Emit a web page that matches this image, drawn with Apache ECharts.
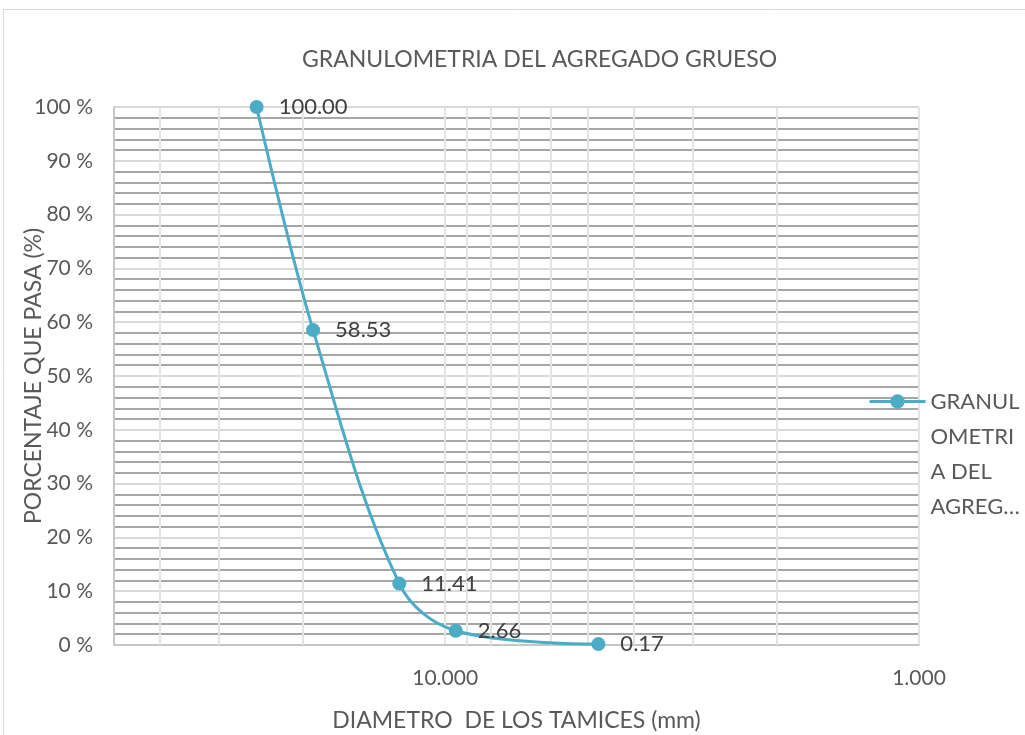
<!DOCTYPE html>
<html>
<head>
<meta charset="utf-8">
<script src="https://cdn.jsdelivr.net/npm/echarts@6/dist/echarts.min.js"></script>
<style>
  html, body { margin: 0; padding: 0; background: #ffffff; }
  #chart { width: 1025px; height: 735px; }
</style>
</head>
<body>
<div id="chart"></div>
<script>
// Sieve opening (mm) and cumulative percentage passing
const sieveSizes = [25.0, 19.0, 12.5, 9.5, 4.75];
const percentPassing = [100.00, 58.53, 11.41, 2.66, 0.17];
// Minor vertical grid positions on the logarithmic diameter axis
const minorDiameters = [40, 30, 20, 9, 8, 7, 6, 5, 4, 3, 2];

const seriesName = 'GRANULOMETRIA DEL AGREGADO GRUESO';
const font = 'Lato, "Noto Sans", sans-serif';
const teal = '#4BACC6';

const chart = echarts.init(document.getElementById('chart'), null, { renderer: 'canvas' });

chart.setOption({
  backgroundColor: '#ffffff',
  animation: false,
  title: {
    text: 'GRANULOMETRIA DEL AGREGADO GRUESO',
    left: 297,
    top: 43,
    textStyle: { fontFamily: font, fontSize: 23, fontWeight: 'normal', color: '#595959' }
  },
  grid: { left: 114, right: 106, top: 107, bottom: 90, containLabel: false, outerBoundsMode: 'none' },
  legend: {
    left: 863,
    top: 274,
    orient: 'vertical',
    itemWidth: 56,
    itemHeight: 18,
    data: [seriesName],
    lineStyle: { width: 3 },
    // three blank lines above keep the first line level with the legend marker
    formatter: () => '\n\n\nGRANUL\nOMETRI\nA DEL\nAGREG…',
    textStyle: { fontFamily: font, fontSize: 22, color: '#595959', lineHeight: 35 }
  },
  xAxis: {
    type: 'log',
    logBase: 10,
    min: 1,
    max: 50,
    inverse: true,
    name: 'DIAMETRO  DE LOS TAMICES (mm)',
    nameLocation: 'middle',
    nameGap: 64,
    nameMoveOverlap: false,
    nameTextStyle: { fontFamily: font, fontSize: 23, color: '#595959' },
    axisLine: { show: true, lineStyle: { color: '#bfbfbf', width: 1.5 } },
    axisTick: { show: false },
    axisLabel: {
      margin: 23,
      fontFamily: font, fontSize: 21, color: '#595959',
      formatter: v => {
        const e = Math.log10(v);
        return (Math.abs(e - Math.round(e)) < 1e-6 && v <= 10.0001) ? Math.pow(10, Math.round(e)).toFixed(3) : '';
      }
    },
    splitLine: { show: true, lineStyle: { color: '#e4e4e4', width: 2 } }
  },
  yAxis: {
    type: 'value',
    min: 0,
    max: 100,
    interval: 10,
    name: 'PORCENTAJE QUE PASA (%)',
    nameLocation: 'middle',
    nameGap: 69,
    nameMoveOverlap: false,
    nameTextStyle: { fontFamily: font, fontSize: 23, color: '#595959' },
    axisLine: { show: true, lineStyle: { color: '#bfbfbf', width: 1.5 } },
    axisTick: { show: false },
    axisLabel: {
      margin: 21,
      fontFamily: font, fontSize: 21, color: '#595959',
      formatter: '{value} %'
    },
    splitLine: { show: true, lineStyle: { color: '#d9d9d9', width: 2 } },
    minorTick: { show: false, splitNumber: 5 },
    minorSplitLine: { show: true, lineStyle: { color: '#a6a6a6', width: 2 } }
  },
  series: [{
    name: seriesName,
    type: 'line',
    data: sieveSizes.map((d, i) => [d, percentPassing[i]]),
    smooth: 0.35,
    symbol: 'circle',
    symbolSize: 14,
    itemStyle: { color: teal },
    lineStyle: { color: teal, width: 3 },
    label: {
      show: true,
      position: 'right',
      distance: 15,
      fontFamily: font, fontSize: 22, color: '#404040',
      formatter: p => p.value[1].toFixed(2)
    },
    markLine: {
      silent: true,
      symbol: ['none', 'none'],
      label: { show: false },
      lineStyle: { color: '#e4e4e4', width: 2, type: 'solid' },
      data: minorDiameters.map(d => ({ xAxis: d })),
      z: 1
    },
    z: 5
  }],
  graphic: [{
    type: 'rect',
    shape: { x: 3.5, y: 9.5, width: 1100, height: 800 },
    style: { fill: null, stroke: '#d9d9d9', lineWidth: 1 },
    silent: true
  }]
});
</script>
</body>
</html>
